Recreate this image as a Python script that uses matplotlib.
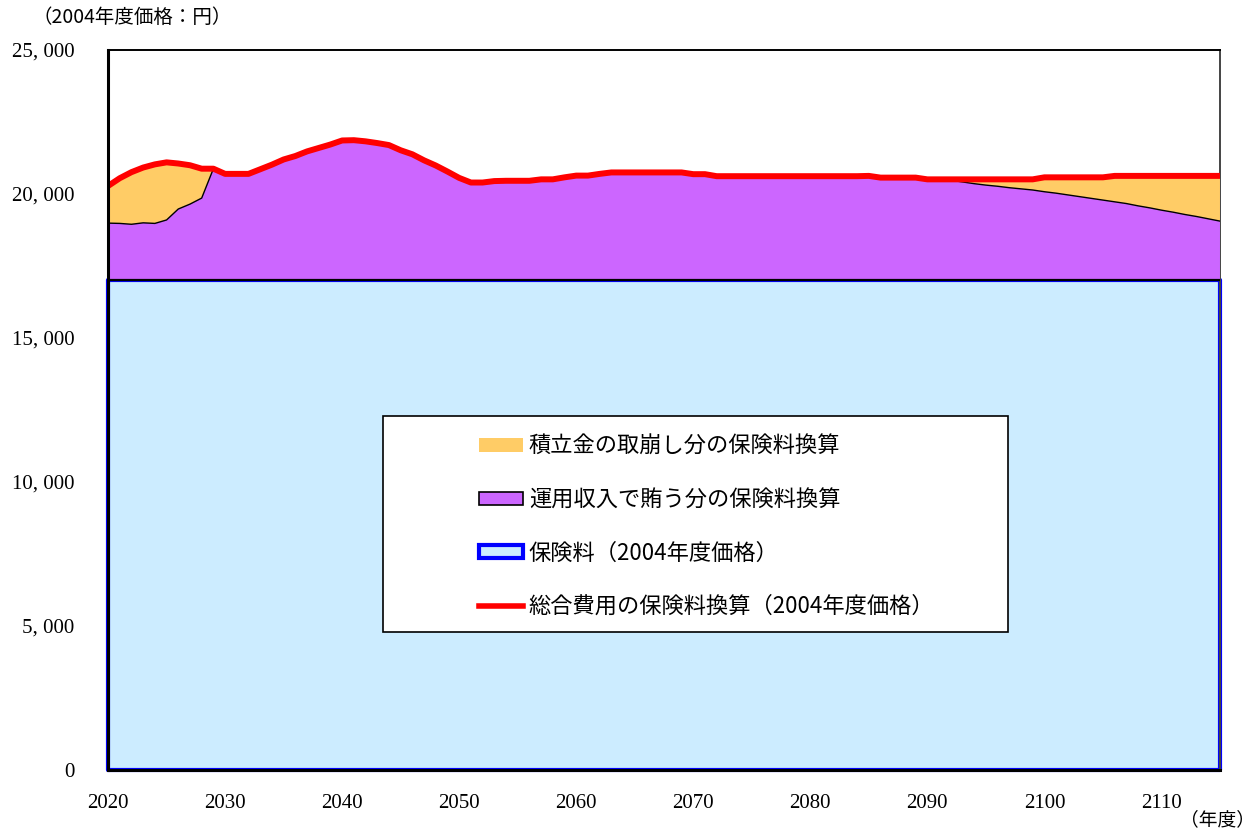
import numpy as np
import matplotlib.pyplot as plt
from matplotlib.patches import Patch, Rectangle
from matplotlib.lines import Line2D

plt.rcParams['font.family'] = ['Noto Sans CJK JP', 'DejaVu Sans']

# ---------------------------------------------------------
# データ（2004年度価格：円）
# ---------------------------------------------------------
years = np.arange(2020, 2116)

# 総合費用の保険料換算（赤線）
total = [
    20280, 20550, 20760, 20920, 21030, 21100, 21060, 21000, 20880, 20880,  # 2020-
    20700, 20700, 20700, 20860, 21020, 21200, 21320, 21480, 21600, 21720,  # 2030-
    21860, 21870, 21830, 21770, 21700, 21520, 21380, 21170, 20990, 20780,  # 2040-
    20560, 20400, 20400, 20450, 20460, 20460, 20460, 20510, 20510, 20580,  # 2050-
    20640, 20640, 20700, 20750, 20750, 20750, 20750, 20750, 20750, 20750,  # 2060-
    20690, 20690, 20620, 20620, 20620, 20620, 20620, 20620, 20620, 20620,  # 2070-
    20620, 20620, 20620, 20620, 20620, 20630, 20570, 20570, 20570, 20570,  # 2080-
    20510, 20510, 20510, 20510, 20510, 20510, 20510, 20510, 20510, 20510,  # 2090-
    20580, 20580, 20580, 20580, 20580, 20580, 20630, 20630, 20630, 20630,  # 2100-
    20630, 20630, 20630, 20630, 20630, 20630,                              # 2110-2115
]

# 保険料＋運用収入で賄う分（紫の上端）
income_top = [
    18990, 18980, 18950, 19000, 18980, 19100, 19480, 19650, 19860, 20880,  # 2020-
    20700, 20700, 20700, 20860, 21020, 21200, 21320, 21480, 21600, 21720,  # 2030-
    21860, 21870, 21830, 21770, 21700, 21520, 21380, 21170, 20990, 20780,  # 2040-
    20560, 20400, 20400, 20450, 20460, 20460, 20460, 20510, 20510, 20580,  # 2050-
    20640, 20640, 20700, 20750, 20750, 20750, 20750, 20750, 20750, 20750,  # 2060-
    20690, 20690, 20620, 20620, 20620, 20620, 20620, 20620, 20620, 20620,  # 2070-
    20620, 20620, 20620, 20620, 20620, 20630, 20570, 20570, 20570, 20570,  # 2080-
    20510, 20510, 20480, 20420, 20360, 20310, 20270, 20220, 20180, 20140,  # 2090-
    20080, 20030, 19970, 19910, 19850, 19790, 19730, 19670, 19590, 19520,  # 2100-
    19440, 19370, 19290, 19220, 19140, 19060,                              # 2110-2115
]

# 保険料（2004年度価格）
premium = [17000] * len(years)

xticks = [2020, 2030, 2040, 2050, 2060, 2070, 2080, 2090, 2100, 2110]
yticks = [0, 5000, 10000, 15000, 20000, 25000]
ytick_labels = ['0', '5, 000', '10, 000', '15, 000', '20, 000', '25, 000']

legend_labels = ['積立金の取崩し分の保険料換算',
                 '運用収入で賄う分の保険料換算',
                 '保険料（2004年度価格）',
                 '総合費用の保険料換算（2004年度価格）']

c_orange = '#FFCC66'
c_purple = '#CC66FF'
c_lblue = '#CCECFF'
c_blue = '#0000FF'
c_red = '#FF0000'

# ---------------------------------------------------------
# 描画
# ---------------------------------------------------------
fig = plt.figure(figsize=(12.55, 8.34), dpi=100)
ax = fig.add_axes([0.0861, 0.0767, 0.8860, 0.8633])

ax.fill_between(years, 0, premium, facecolor=c_lblue, edgecolor=c_blue,
                linewidth=3, zorder=2, clip_on=False)
ax.fill_between(years, premium, income_top, facecolor=c_purple,
                edgecolor='none', zorder=3)
ax.fill_between(years, income_top, total, facecolor=c_orange,
                edgecolor='none', zorder=3)
ax.plot(years, premium, color='black', linewidth=1.6, zorder=4)
ax.plot(years, income_top, color='black', linewidth=1.0, zorder=4)
ax.plot(years, total, color=c_red, linewidth=4.3, zorder=5,
        solid_joinstyle='round')

ax.set_xlim(2020, 2115)
ax.set_ylim(0, 25000)

ax.set_xticks(xticks)
ax.set_yticks(yticks)
ax.set_yticklabels(ytick_labels)
ax.tick_params(axis='x', direction='in', length=5, width=1, pad=17,
               labelsize=15, top=False)
ax.tick_params(axis='y', length=0, pad=24, labelsize=15)
for lab in ax.get_xticklabels() + ax.get_yticklabels():
    lab.set_family(['Liberation Serif', 'DejaVu Serif'])

for side in ['left', 'bottom']:
    ax.spines[side].set_linewidth(2.2)
    ax.spines[side].set_zorder(6)
ax.spines['top'].set_linewidth(1.4)
ax.spines['right'].set_linewidth(1.4)
ax.spines['right'].set_color('#444444')

# 単位ラベル
fig.text(0.026, 0.979, '（2004年度価格：円）', fontsize=14, va='center',
         ha='left', family=['Noto Sans CJK JP', 'DejaVu Sans'])
fig.text(1.0, 0.017, '（年度）', fontsize=13.5, va='center', ha='right',
         family=['Noto Sans CJK JP', 'DejaVu Sans'])

# 凡例
box = Rectangle((0.247, 0.192), 0.562, 0.300, transform=ax.transAxes,
                facecolor='white', edgecolor='black', linewidth=1.2, zorder=7)
ax.add_patch(box)
handles = [
    Patch(facecolor=c_orange, edgecolor='none'),
    Patch(facecolor=c_purple, edgecolor='black', linewidth=1.2),
    Patch(facecolor=c_lblue, edgecolor=c_blue, linewidth=3),
    Line2D([0], [0], color=c_red, linewidth=4),
]
leg = ax.legend(handles, legend_labels, loc='upper left',
                bbox_to_anchor=(0.3255, 0.478), frameon=False, fontsize=16,
                handlelength=1.98, handleheight=0.55, handletextpad=0.27,
                labelspacing=1.37, borderaxespad=0)
leg.set_zorder(8)

fig.savefig('out.png', dpi=100)
